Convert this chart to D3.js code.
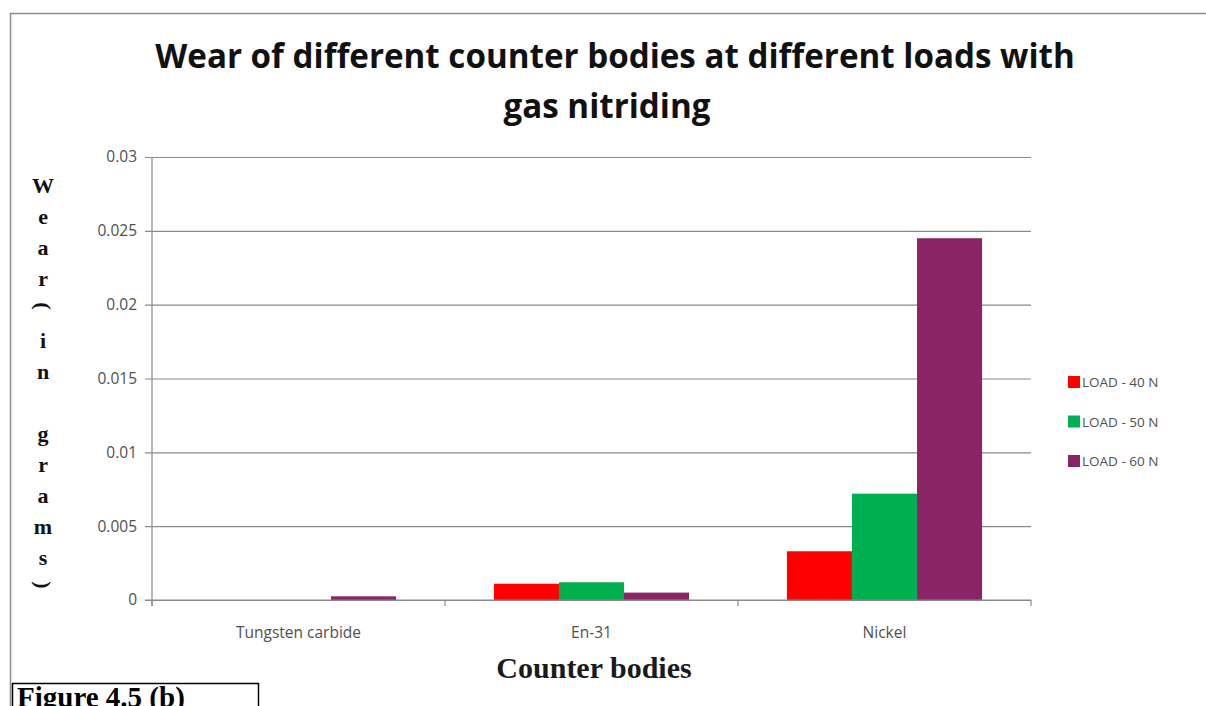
<!DOCTYPE html>
<html>
<head>
<meta charset="utf-8">
<script src="https://cdn.jsdelivr.net/npm/d3@7"></script>
<style>
  html, body { margin: 0; padding: 0; background: #fff; }
  svg { display: block; }
</style>
</head>
<body>
<svg id="chart" width="1206" height="706"></svg>
<script>
// Wear (g) per counter body for three test loads, gas-nitrided specimens
const categories = ["Tungsten carbide", "En-31", "Nickel"];
const seriesNames = ["LOAD - 40 N", "LOAD - 50 N", "LOAD - 60 N"];
const load40 = [0, 0.0011, 0.0033];
const load50 = [0, 0.0012, 0.0072];
const load60 = [0.00025, 0.0005, 0.0245];
const seriesColors = ["#ff0000", "#00b050", "#8b2465"];
const yTicks = [0, 0.005, 0.01, 0.015, 0.02, 0.025, 0.03];
const yTickLabels = ["0", "0.005", "0.01", "0.015", "0.02", "0.025", "0.03"];
const yTitleChars = ["W", "e", "a", "r", "(", "i", "n", "g", "r", "a", "m", "s", ")"];
const yTitleRows = [0, 1, 2, 3, 4, 5, 6, 8, 9, 10, 11, 12, 13];

const seriesValues = [load40, load50, load60];
const rows = categories.map((c, i) => ({
  category: c,
  values: seriesNames.map((s, j) => ({ series: s, value: seriesValues[j][i] }))
}));

const svg = d3.select("#chart");
const sans = "'Open Sans', 'Noto Sans', sans-serif";
const serif = "'Liberation Serif', 'DejaVu Serif', serif";

const plot = { left: 152, right: 1031, top: 157, bottom: 600 };

// page frame
svg.append("path")
  .attr("d", "M10.5,720 V13.5 H1220")
  .attr("fill", "none")
  .attr("stroke", "#8c8c8c")
  .attr("stroke-width", 1.5);

// title, sized so the first line spans the plot width
const title = svg.append("text")
  .attr("font-family", sans)
  .attr("font-weight", "bold")
  .attr("font-size", 30)
  .attr("fill", "#111")
  .attr("text-anchor", "middle");
const t1 = title.append("tspan").attr("x", 615).attr("y", 68)
  .text("Wear of different counter bodies at different loads with");
title.append("tspan").attr("x", 607).attr("y", 118)
  .text("gas nitriding");
const w1 = t1.node().getComputedTextLength();
if (w1 > 0) title.attr("font-size", 30 * 920 / w1);

// scales
const x = d3.scaleBand().domain(categories).range([plot.left, plot.right]).padding(0);
const groupPad = x.bandwidth() * 0.167;
const xs = d3.scaleBand().domain(seriesNames)
  .range([groupPad, x.bandwidth() - groupPad]).padding(0);
const y = d3.scaleLinear().domain([0, 0.03]).range([plot.bottom, plot.top]);
const color = d3.scaleOrdinal().domain(seriesNames).range(seriesColors);

// gridlines + y axis
const yAxis = d3.axisLeft(y)
  .tickValues(yTicks)
  .tickFormat((d, i) => yTickLabels[i])
  .tickSize(-(plot.right - plot.left))
  .tickPadding(15);
const gy = svg.append("g").attr("transform", `translate(${plot.left},0)`).call(yAxis);
gy.select(".domain").remove();
gy.selectAll(".tick line")
  .attr("x1", -7)
  .attr("stroke", "#8a8a8a")
  .attr("stroke-width", 1.2);
gy.selectAll(".tick text")
  .attr("font-family", sans)
  .attr("font-size", 15.5)
  .attr("fill", "#505050");

// vertical axis line
svg.append("line")
  .attr("x1", plot.left).attr("x2", plot.left)
  .attr("y1", plot.top).attr("y2", plot.bottom + 6)
  .attr("stroke", "#8a8a8a").attr("stroke-width", 1.2);

// bars
const groups = svg.append("g").selectAll("g")
  .data(rows).join("g")
  .attr("transform", d => `translate(${x(d.category)},0)`);
groups.selectAll("rect")
  .data(d => d.values).join("rect")
  .attr("x", d => xs(d.series))
  .attr("width", xs.bandwidth())
  .attr("y", d => y(d.value))
  .attr("height", d => y(0) - y(d.value))
  .attr("fill", d => color(d.series));

// x axis with category boundary ticks
const xBounds = categories.map(c => x(c)).concat([plot.right]);
svg.append("g").selectAll("line")
  .data(xBounds).join("line")
  .attr("x1", d => d).attr("x2", d => d)
  .attr("y1", plot.bottom).attr("y2", plot.bottom + 6)
  .attr("stroke", "#8a8a8a").attr("stroke-width", 1.2);
svg.append("line")
  .attr("x1", plot.left - 7).attr("x2", plot.right)
  .attr("y1", plot.bottom).attr("y2", plot.bottom)
  .attr("stroke", "#8a8a8a").attr("stroke-width", 1.2);
svg.append("g").selectAll("text")
  .data(categories).join("text")
  .attr("x", d => x(d) + x.bandwidth() / 2)
  .attr("y", 638)
  .attr("text-anchor", "middle")
  .attr("font-family", sans)
  .attr("font-size", 15.5)
  .attr("fill", "#505050")
  .text(d => d);

// x axis title
svg.append("text")
  .attr("x", 594).attr("y", 678)
  .attr("text-anchor", "middle")
  .attr("font-family", serif)
  .attr("font-weight", "bold")
  .attr("font-size", 30)
  .attr("fill", "#1a1a1a")
  .text("Counter bodies");

// stacked y axis title, one glyph per line
const yTitle = svg.append("g");
yTitle.selectAll("text")
  .data(yTitleChars.map((ch, i) => ({ ch, row: yTitleRows[i] })))
  .join("text")
  .attr("text-anchor", "middle")
  .attr("font-family", serif)
  .attr("font-weight", "bold")
  .attr("font-size", 22)
  .attr("fill", "#111")
  .attr("transform", d => {
    const cy = 186 + d.row * 31;
    if (d.ch === "(" || d.ch === ")") return `translate(43,${cy - 4}) rotate(90)`;
    return `translate(43,${cy + 7})`;
  })
  .attr("dy", d => (d.ch === "(" || d.ch === ")") ? "0.32em" : 0)
  .text(d => d.ch);

// legend
const legend = svg.append("g").selectAll("g")
  .data(seriesNames).join("g")
  .attr("transform", (d, i) => `translate(1068,${382 + i * 39.5})`);
legend.append("rect")
  .attr("x", 0).attr("y", -6)
  .attr("width", 12).attr("height", 12)
  .attr("fill", d => color(d));
legend.append("text")
  .attr("x", 14).attr("y", 5)
  .attr("font-family", sans)
  .attr("font-size", 13.5)
  .attr("fill", "#505050")
  .text(d => d);

// figure caption box
svg.append("rect")
  .attr("x", 12.5).attr("y", 683.5)
  .attr("width", 246).attr("height", 40)
  .attr("fill", "#fff")
  .attr("stroke", "#000")
  .attr("stroke-width", 1.5);
svg.append("text")
  .attr("x", 17).attr("y", 707)
  .attr("font-family", serif)
  .attr("font-weight", "bold")
  .attr("font-size", 29)
  .attr("fill", "#000")
  .text("Figure 4.5 (b)");
</script>
</body>
</html>
